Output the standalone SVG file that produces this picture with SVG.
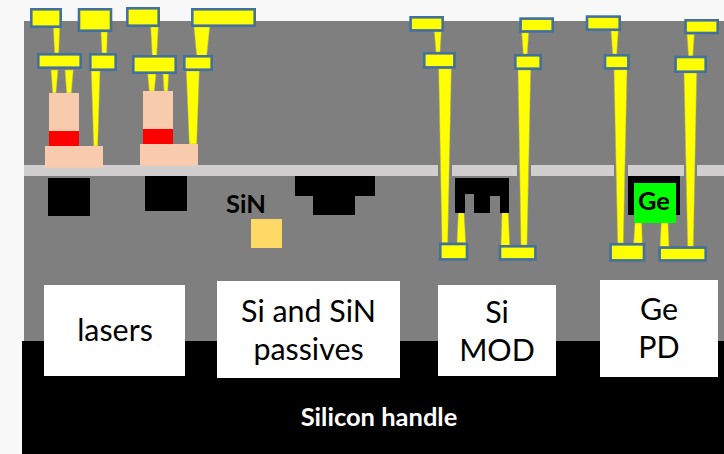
<svg xmlns="http://www.w3.org/2000/svg" width="724" height="454" viewBox="0 0 724 454">
<style>
.pad{fill:#ffff00;stroke:#41719c;stroke-width:2.6}
.via{fill:#ffff00;stroke:#b0b060;stroke-width:.5}
.strip{fill:#d0cece}
.blk{fill:#000}
.skin{fill:#f8cbad}
.red{fill:#ff0000}
.lbl{fill:#fff}
text{font-family:"Lato","Open Sans","Liberation Sans",sans-serif;text-anchor:middle;fill:#000}
.big{font-size:30.400px}
.b{font-weight:700;font-size:25.500px}
</style>
<rect width="724" height="454" fill="#f8f8f8"/>
<rect x="24" y="21" width="700" height="320" fill="#7f7f7f"/>
<rect x="22" y="341" width="702" height="113" fill="#000"/>
<g id="oxide-strip">
<rect class="strip" x="24" y="165" width="414" height="11"/>
<rect class="strip" x="452" y="165" width="65" height="11"/>
<rect class="strip" x="531" y="165" width="83" height="11"/>
<rect class="strip" x="628" y="165" width="56" height="11"/>
<rect class="strip" x="697" y="165" width="27" height="11"/>
</g>
<g id="connectors">
<polygon class="via" points="53.3,28 59.7,28 58.7,53 54.7,53"/>
<polygon class="via" points="101,32 107.3,32 106.7,53 102,53"/>
<polygon class="via" points="150.7,27 158.3,27 156.7,56 152.3,56"/>
<polygon class="via" points="194,27 209.7,27 206.7,56 196.7,56"/>
<polygon class="via" points="51,70 58,70 56,93 52.7,93"/>
<polygon class="via" points="65,70 73.3,70 71.3,93 66.7,93"/>
<polygon class="via" points="91.3,71 100,71 97.7,146 93.7,146"/>
<polygon class="via" points="147.7,74 156,74 154.3,91 149.3,91"/>
<polygon class="via" points="163,74 168.7,74 167.7,91 164,91"/>
<polygon class="via" points="186.3,71 199.3,71 196.7,144 189.3,144"/>
<polygon class="via" points="434.3,31.7 441.3,31.7 440,52 436,52"/>
<polygon class="via" points="521.7,32.7 528.7,32.7 527.3,54 523.3,54"/>
<polygon class="via" points="611,31 618.3,31 616.7,54 612.7,54"/>
<polygon class="via" points="687,34.3 694.3,34.3 692.7,58 688.7,58"/>
<polygon class="via" points="438.7,68.7 451.3,68.7 447.7,242.7 442,242.7"/>
<polygon class="via" points="518,70 530.7,70 527,245 521,245"/>
<polygon class="via" points="614,69.7 627,69.7 623.3,243 617.7,243"/>
<polygon class="via" points="684,73 696.7,73 693.3,246.7 687.7,246.7"/>
<polygon class="via" points="458.3,212.7 464,212.7 465.7,242.7 457,242.7"/>
<polygon class="via" points="502,212.7 508.3,212.7 509.7,245.7 501,245.7"/>
<polygon class="via" points="635,222.7 641.7,222.7 642.3,243 633.7,243"/>
<polygon class="via" points="661.3,222.7 668,222.7 669,246.7 660,246.7"/>
</g>
<g id="laser-1">
<rect class="skin" x="49" y="93" width="30" height="38"/>
<rect class="red" x="49" y="131" width="30" height="15"/>
<rect class="skin" x="45" y="146" width="58" height="21.7"/>
</g>
<g id="laser-2">
<rect class="skin" x="143" y="91" width="30" height="38"/>
<rect class="red" x="143" y="129" width="30" height="15"/>
<rect class="skin" x="140" y="144" width="58" height="21.7"/>
</g>
<g id="waveguide-1"><rect class="blk" x="48" y="178" width="42" height="38"/></g>
<g id="waveguide-2"><rect class="blk" x="145" y="176" width="42" height="35"/></g>
<g id="sin-core"><rect x="251" y="219" width="31" height="29" fill="#ffd966"/><text class="b" x="246" y="213">SiN</text></g>
<g id="si-passive"><polygon class="blk" points="295,176 375,176 375,196 355,196 355,215 313,215 313,196 295,196"/></g>
<g id="si-mod"><polygon class="blk" points="455,178 509,178 509,213 500,213 500,196 490,196 490,213 474,213 474,194 465,194 465,213 455,213"/></g>
<g id="ge-pd"><rect class="blk" x="628" y="176" width="52" height="39"/><rect x="634" y="183" width="42" height="40" fill="#00ff00"/><text class="b" x="654" y="210">Ge</text></g>
<g id="pads">
<rect class="pad" x="31.3" y="9.3" width="29.4" height="17.4"/>
<rect class="pad" x="79" y="9.3" width="32" height="21.4"/>
<rect class="pad" x="127.3" y="8.3" width="31.4" height="17.4"/>
<rect class="pad" x="192.3" y="9.3" width="62.4" height="16.4"/>
<rect class="pad" x="38.3" y="54.3" width="42.4" height="13.4"/>
<rect class="pad" x="90.3" y="54.3" width="25.4" height="15.4"/>
<rect class="pad" x="133.3" y="56.3" width="42.4" height="16.4"/>
<rect class="pad" x="184.3" y="56.3" width="27.4" height="13.4"/>
<rect class="pad" x="410.6" y="17.3" width="32.1" height="13.1"/>
<rect class="pad" x="520.6" y="18.6" width="32.1" height="12.8"/>
<rect class="pad" x="587" y="16.6" width="32.7" height="13.1"/>
<rect class="pad" x="685.6" y="20.3" width="32.1" height="12.7"/>
<rect class="pad" x="424.3" y="53.3" width="30.1" height="14.1"/>
<rect class="pad" x="515.3" y="55.3" width="25.4" height="13.4"/>
<rect class="pad" x="605" y="55.3" width="23.4" height="13.1"/>
<rect class="pad" x="675.6" y="57" width="30.1" height="14.7"/>
<rect class="pad" x="440.3" y="244" width="26.7" height="15.4"/>
<rect class="pad" x="500" y="246.3" width="35.4" height="13.1"/>
<rect class="pad" x="610.6" y="244.3" width="33.4" height="16.1"/>
<rect class="pad" x="659.6" y="247.6" width="46.1" height="12.8"/>
</g>
<g id="label-lasers"><rect class="lbl" x="44" y="285" width="141" height="91"/><text class="big" x="115" y="341">lasers</text></g>
<g id="label-passives"><rect class="lbl" x="217" y="281" width="183" height="97"/><text class="big" x="308.500" y="322">Si and SiN</text><text class="big" x="308.500" y="360">passives</text></g>
<g id="label-mod"><rect class="lbl" x="438" y="285" width="118" height="91"/><text class="big" x="497" y="323">Si</text><text class="big" x="497" y="361">MOD</text></g>
<g id="label-pd"><rect class="lbl" x="600" y="280" width="118" height="97"/><text class="big" x="659" y="320">Ge</text><text class="big" x="659" y="358">PD</text></g>
<g id="handle-label"><text class="b" x="379" y="426" style="fill:#fff">Silicon handle</text></g>
</svg>
